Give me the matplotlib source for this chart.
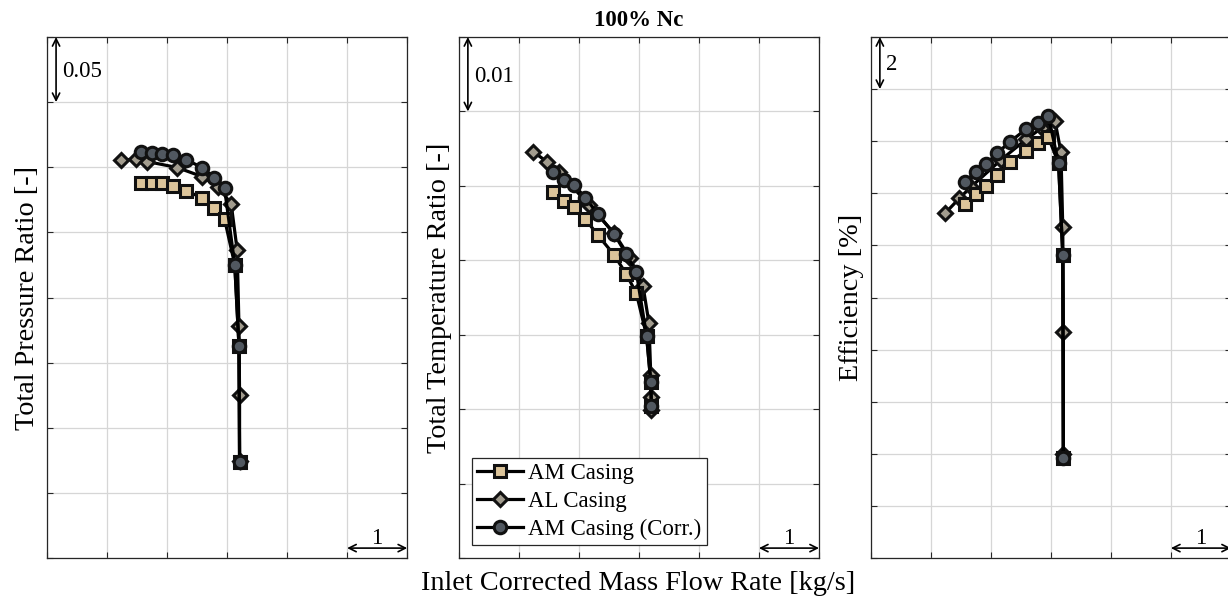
import matplotlib
matplotlib.use("Agg")
import matplotlib.pyplot as plt
from matplotlib.transforms import blended_transform_factory

plt.rcParams['font.family'] = ['Liberation Serif', 'DejaVu Serif']

# ---------------- data ----------------
series_names = ["AM Casing", "AL Casing", "AM Casing (Corr.)"]

# inlet corrected mass flow rate [kg/s] (relative axis, 1 kg/s per grid)
mflow_am = [1.57, 1.76, 1.92, 2.11, 2.32, 2.59, 2.79, 2.96, 3.13, 3.20, 3.21]
mflow_al = [1.24, 1.48, 1.67, 2.17, 2.59, 2.85, 3.07, 3.17, 3.20, 3.21, 3.21]
mflow_corr = [1.57, 1.76, 1.92, 2.11, 2.32, 2.59, 2.79, 2.96, 3.13, 3.20, 3.21]

# total pressure ratio [-]
pr_am = [1.3876, 1.3876, 1.3876, 1.3857, 1.3818, 1.3766, 1.3686, 1.3603, 1.3252, 1.2629, 1.1738]
pr_al = [1.4052, 1.4065, 1.4044, 1.3998, 1.3928, 1.3850, 1.3720, 1.3364, 1.2782, 1.2252, 1.1746]
pr_corr = [1.4117, 1.4109, 1.4104, 1.4091, 1.4057, 1.3998, 1.3920, 1.3837, 1.3252, 1.2629, 1.1738]

# total temperature ratio [-]
tr_am = [1.14923, 1.14802, 1.14722, 1.14556, 1.14337, 1.14073, 1.13817, 1.13558, 1.12988, 1.12370, 1.12043]
tr_al = [1.15461, 1.15319, 1.15188, 1.14745, 1.14364, 1.14036, 1.13660, 1.13155, 1.12460, 1.12164, 1.11989]
tr_corr = [1.15192, 1.15081, 1.15013, 1.14843, 1.14620, 1.14355, 1.14086, 1.13840, 1.12988, 1.12370, 1.12043]

# efficiency [%]
eff_am = [83.60, 83.98, 84.29, 84.72, 85.19, 85.64, 85.92, 86.15, 85.15, 81.63, 73.83]
eff_al = [83.23, 83.81, 84.24, 85.28, 86.07, 86.51, 86.79, 85.57, 82.69, 78.69, 74.00]
eff_corr = [84.45, 84.83, 85.11, 85.54, 85.98, 86.46, 86.71, 86.97, 85.15, 81.63, 73.83]

ylabels = ["Total Pressure Ratio [-]", "Total Temperature Ratio [-]", "Efficiency [%]"]
xlabel = "Inlet Corrected Mass Flow Rate [kg/s]"
title = "100% Nc"
x_limits = (0.0, 6.0)
x_step = 1.0
y_limits = [(1.10, 1.50), (1.10, 1.17), (70.0, 90.0)]
y_steps = [0.05, 0.01, 2.0]
y_scale_labels = ["0.05", "0.01", "2"]
x_scale_label = "1"

# ---------------- style ----------------
W, H = 1228, 601
fig = plt.figure(figsize=(W / 100, H / 100), dpi=100)

c_am = "#dcc49a"
c_al = "#a29c8e"
c_corr = "#515860"
edge = "#111111"

ax_left_px = [46.7, 458.5, 870.5]
ax_w_px = 360.5
ax_top_px, ax_bot_px = 37.0, 558.0

ys_all = [(pr_am, pr_al, pr_corr), (tr_am, tr_al, tr_corr), (eff_am, eff_al, eff_corr)]

for i in range(3):
    ax = fig.add_axes([ax_left_px[i] / W, 1 - ax_bot_px / H, ax_w_px / W, (ax_bot_px - ax_top_px) / H])
    y_am, y_al, y_corr = ys_all[i]
    h_al, = ax.plot(mflow_al, y_al, '-', color='k', lw=2.3, marker='D', ms=7.5,
                    mfc=c_al, mec=edge, mew=2.2, zorder=3, label=series_names[1])
    h_am, = ax.plot(mflow_am, y_am, '-', color='k', lw=2.3, marker='s', ms=9,
                    mfc=c_am, mec=edge, mew=2.2, zorder=4, label=series_names[0])
    h_co, = ax.plot(mflow_corr, y_corr, '-', color='k', lw=2.3, marker='o', ms=9,
                    mfc=c_corr, mec=edge, mew=2.2, zorder=5, label=series_names[2])

    x0, x1 = x_limits
    y0, y1 = y_limits[i]
    ax.set_xlim(x0, x1)
    ax.set_ylim(y0, y1)
    nx = int(round((x1 - x0) / x_step))
    ny = int(round((y1 - y0) / y_steps[i]))
    ax.set_xticks([x0 + k * x_step for k in range(nx + 1)])
    ax.set_yticks([y0 + k * y_steps[i] for k in range(ny + 1)])
    ax.tick_params(which='both', direction='in', length=4, width=0.8, color='#262626',
                   top=True, right=True, labelbottom=False, labelleft=False)
    ax.grid(True, color='#d6d6d6', lw=0.9, zorder=0)
    ax.set_axisbelow(True)
    for s in ax.spines.values():
        s.set_color('#262626')
        s.set_linewidth(0.9)
    ax.set_ylabel(ylabels[i], fontsize=20.3, labelpad=5)

    # vertical scale bar (one y-grid step)
    tv = blended_transform_factory(ax.transAxes, ax.transData)
    ax.annotate('', xy=(0.026, y1), xytext=(0.026, y1 - y_steps[i]), xycoords=tv, textcoords=tv,
                arrowprops=dict(arrowstyle='<->', lw=1.2, color='k', shrinkA=0, shrinkB=0,
                                mutation_scale=13), zorder=6)
    ax.text(0.042, y1 - 0.53 * y_steps[i], y_scale_labels[i], transform=tv,
            ha='left', va='center', fontsize=16.5, zorder=6)

    # horizontal scale bar (one x-grid step)
    th = blended_transform_factory(ax.transData, ax.transAxes)
    ax.annotate('', xy=(x1, 0.019), xytext=(x1 - x_step, 0.019), xycoords=th, textcoords=th,
                arrowprops=dict(arrowstyle='<->', lw=1.2, color='k', shrinkA=0, shrinkB=0,
                                mutation_scale=13), zorder=6)
    ax.text(x1 - 0.5 * x_step, 0.026, x_scale_label, transform=th,
            ha='center', va='baseline', fontsize=16.5, zorder=6)

    if i == 1:
        leg = ax.legend(handles=[h_am, h_al, h_co], loc='lower left',
                        bbox_to_anchor=(0.037, 0.025), borderaxespad=0, fontsize=16.5,
                        frameon=True, fancybox=False, framealpha=1, edgecolor='#262626',
                        handlelength=2.0, handletextpad=0.25, labelspacing=0.3,
                        borderpad=0.22)
        leg.get_frame().set_linewidth(0.9)
        leg.set_zorder(10)

fig.text(638.5 / W, 1 - 21 / H, title, ha='center', va='center', fontsize=16.5, fontweight='bold')
fig.text(638.5 / W, 1 - 583 / H, xlabel, ha='center', va='center', fontsize=20.3)

fig.savefig('out.png', dpi=100)
